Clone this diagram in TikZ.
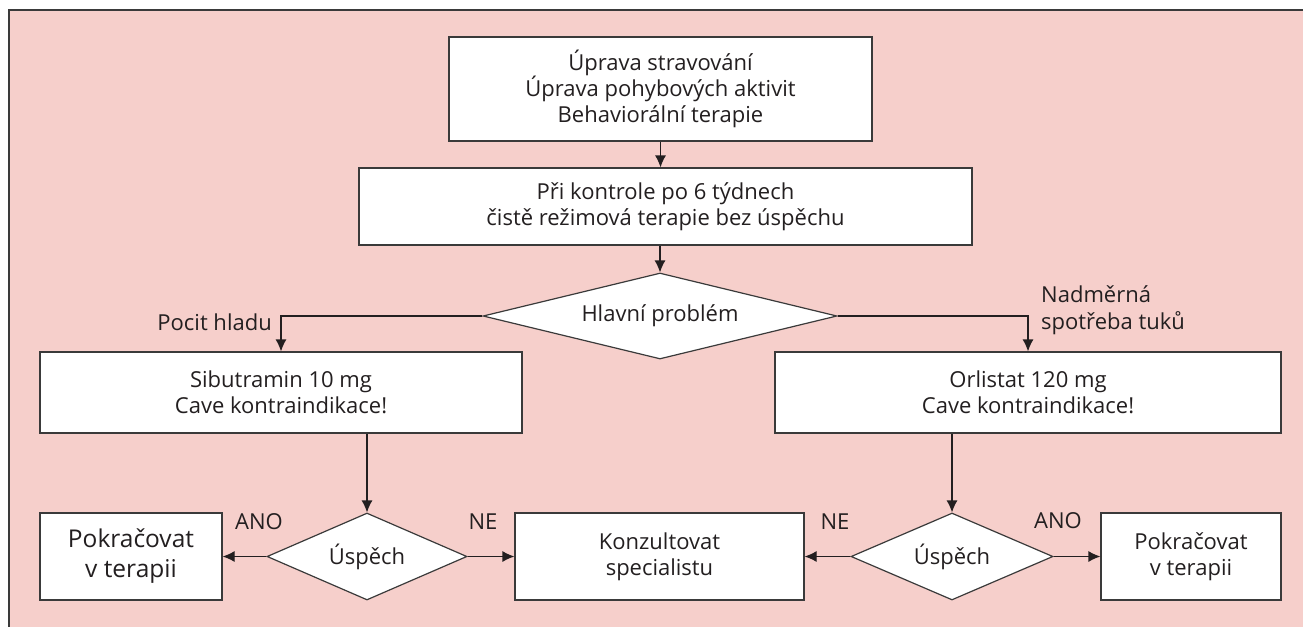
\documentclass[tikz,border=0pt]{standalone}
\usepackage{fontspec}
\setmainfont{Open Sans}
\usetikzlibrary{arrows.meta,positioning,calc,shapes.geometric}
\definecolor{bgpink}{HTML}{F6CFCB}
\definecolor{linegray}{HTML}{3A3A3A}
\definecolor{inkgray}{HTML}{231F20}
\tikzset{
  box/.style={draw=linegray,fill=white,line width=1.2pt,align=center,inner sep=0pt,
    text=inkgray,font=\fontsize{22}{26}\selectfont},
  bigbox/.style={box,font=\fontsize{24.5}{30}\selectfont},
  dec/.style={diamond,draw=linegray,fill=white,line width=1.2pt,inner sep=0pt,
    text=inkgray,font=\fontsize{22}{26}\selectfont},
  lbl/.style={inner sep=0pt,text=inkgray,font=\fontsize{22}{27}\selectfont},
  conn/.style={->,draw=inkgray,line width=1.2pt}
}

\begin{document}
\begin{tikzpicture}[>={Latex[length=12pt,width=11pt]},x=1pt,y=-1pt]
\useasboundingbox (0,0) rectangle (1303,627);
\fill[bgpink] (9,10) rectangle (1303,627);
\draw[linegray,line width=1.3pt] (1303,10) -- (9,10) -- (9,627);

% main column
\node[box,minimum width=423pt,minimum height=104pt] (diet) at (660.5,89)
  {Úprava stravování\\Úprava pohybových aktivit\\Behaviorální terapie};
\node[box,minimum width=613pt,minimum height=77pt] (check) at (665.5,206.5)
  {Při kontrole po 6 týdnech\\čistě režimová terapie bez úspěchu};
\node[dec,aspect=4.12,minimum width=354pt,minimum height=86pt] (main) at (660,316)
  {Hlavní problém};

% drugs
\node[box,minimum width=482pt,minimum height=81pt] (sibu) at (281,392.5)
  {Sibutramin 10 mg\\Cave kontraindikace!};
\node[box,minimum width=506pt,minimum height=81pt] (orli) at (1028,392.5)
  {Orlistat 120 mg\\Cave kontraindikace!};
\node[lbl,anchor=east] (hunger) at (272,322) {Pocit hladu};
\node[lbl,anchor=west,align=left] (fat) at (1041,310) {Nadměrná\\spotřeba tuků};

% outcome row
\node[dec,aspect=2.3,minimum width=200pt,minimum height=87pt] (succL) at (367,556.5) {Úspěch};
\node[dec,aspect=2.3,minimum width=202pt,minimum height=87pt] (succR) at (952,556.5) {Úspěch};
\node[bigbox,minimum width=182pt,minimum height=87pt] (contL) at (131,556.5)
  {Pokračovat\\v terapii};
\node[box,minimum width=289pt,minimum height=87pt] (spec) at (659.5,556.5)
  {Konzultovat\\specialistu};
\node[box,minimum width=180pt,minimum height=87pt] (contR) at (1191,556.5)
  {Pokračovat\\v terapii};
\node[lbl] (yesL) at (259,522) {ANO};
\node[lbl] (noL) at (483,522) {NE};
\node[lbl] (noR) at (835,522) {NE};
\node[lbl] (yesR) at (1058,521) {ANO};

\draw[conn] (diet.south) -- (diet.south |- check.north);
\draw[conn] (main.north |- check.south) -- (main.north);
\draw[conn] (main.west) -| (sibu.north);
\draw[conn] (main.east) -| (orli.north);
\draw[conn] (succL.north |- sibu.south) -- (succL.north);
\draw[conn] (succR.north |- orli.south) -- (succR.north);
\draw[conn] (succL.west) -- (contL.east);
\draw[conn] (succL.east) -- (spec.west);
\draw[conn] (succR.west) -- (spec.east);
\draw[conn] (succR.east) -- (contR.west);
\end{tikzpicture}
\end{document}
